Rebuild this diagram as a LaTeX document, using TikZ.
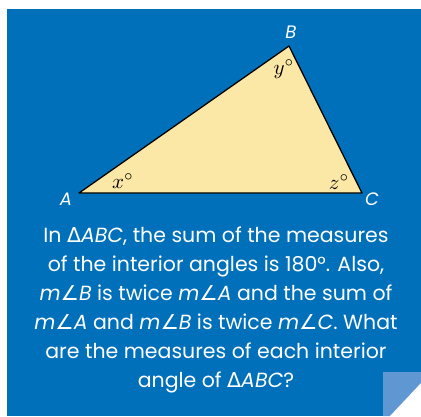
\documentclass[tikz,border=0pt]{standalone}
\usepackage{amsmath}
\usepackage{amssymb}
\usepackage{fontspec}
\usepackage{xcolor}
\setmainfont{Poppins}
\newfontfamily\symfont{DejaVu Sans}
\definecolor{cardblue}{HTML}{0070BA}
\definecolor{flapblue}{HTML}{5F97D2}
\definecolor{paleyellow}{HTML}{FCE8A6}

\begin{document}
\begin{tikzpicture}[x=1pt, y=-1pt]
    \useasboundingbox (0,0) rectangle (421,416);
    \fill[white] (0,0) rectangle (421,416);
    \fill[cardblue] (7,9) rectangle (421,416);
    
    % folded corner
    \fill[flapblue] (383,372) -- (421,372) -- (421,383) -- (390,416) -- (383,416) -- cycle;
    \fill[white] (421,383) -- (421,416) -- (390,416) -- cycle;
    
    \coordinate (A) at (79,193);
    \coordinate (B) at (289,46);
    \coordinate (C) at (362,193);
    
    \draw[fill=paleyellow, line width=1.3pt, line join=round] (A) -- (B) -- (C) -- cycle;
    
    \node[white, font=\fontsize{18}{18}\selectfont\itshape] (labA) at (66,199) {A};
    \node[white, font=\fontsize{18}{18}\selectfont\itshape] (labB) at (291,32) {B};
    \node[white, font=\fontsize{18}{18}\selectfont\itshape] (labC) at (372,199) {C};
    
    \node (angA) at (123,181) {\scalebox{2.1}{$x^\circ$}};
    \node (angB) at (284,69) {\scalebox{2.1}{$y^\circ$}};
    \node (angC) at (339,182) {\scalebox{2.1}{$z^\circ$}};
    
    \node[white, align=center, font=\fontsize{20.5}{29}\selectfont] (question) at (216,310)
        {In {\symfont Δ}\textit{ABC}, the sum of the measures\\
         of the interior angles is 180°. Also,\\
         \textit{m{\symfont ∠}B} is twice \textit{m{\symfont ∠}A} and the sum of\\
         \textit{m{\symfont ∠}A} and \textit{m{\symfont ∠}B} is twice \textit{m{\symfont ∠}C}. What\\
         are the measures of each interior\\
         angle of {\symfont Δ}\textit{ABC}?};
\end{tikzpicture}
\end{document}
